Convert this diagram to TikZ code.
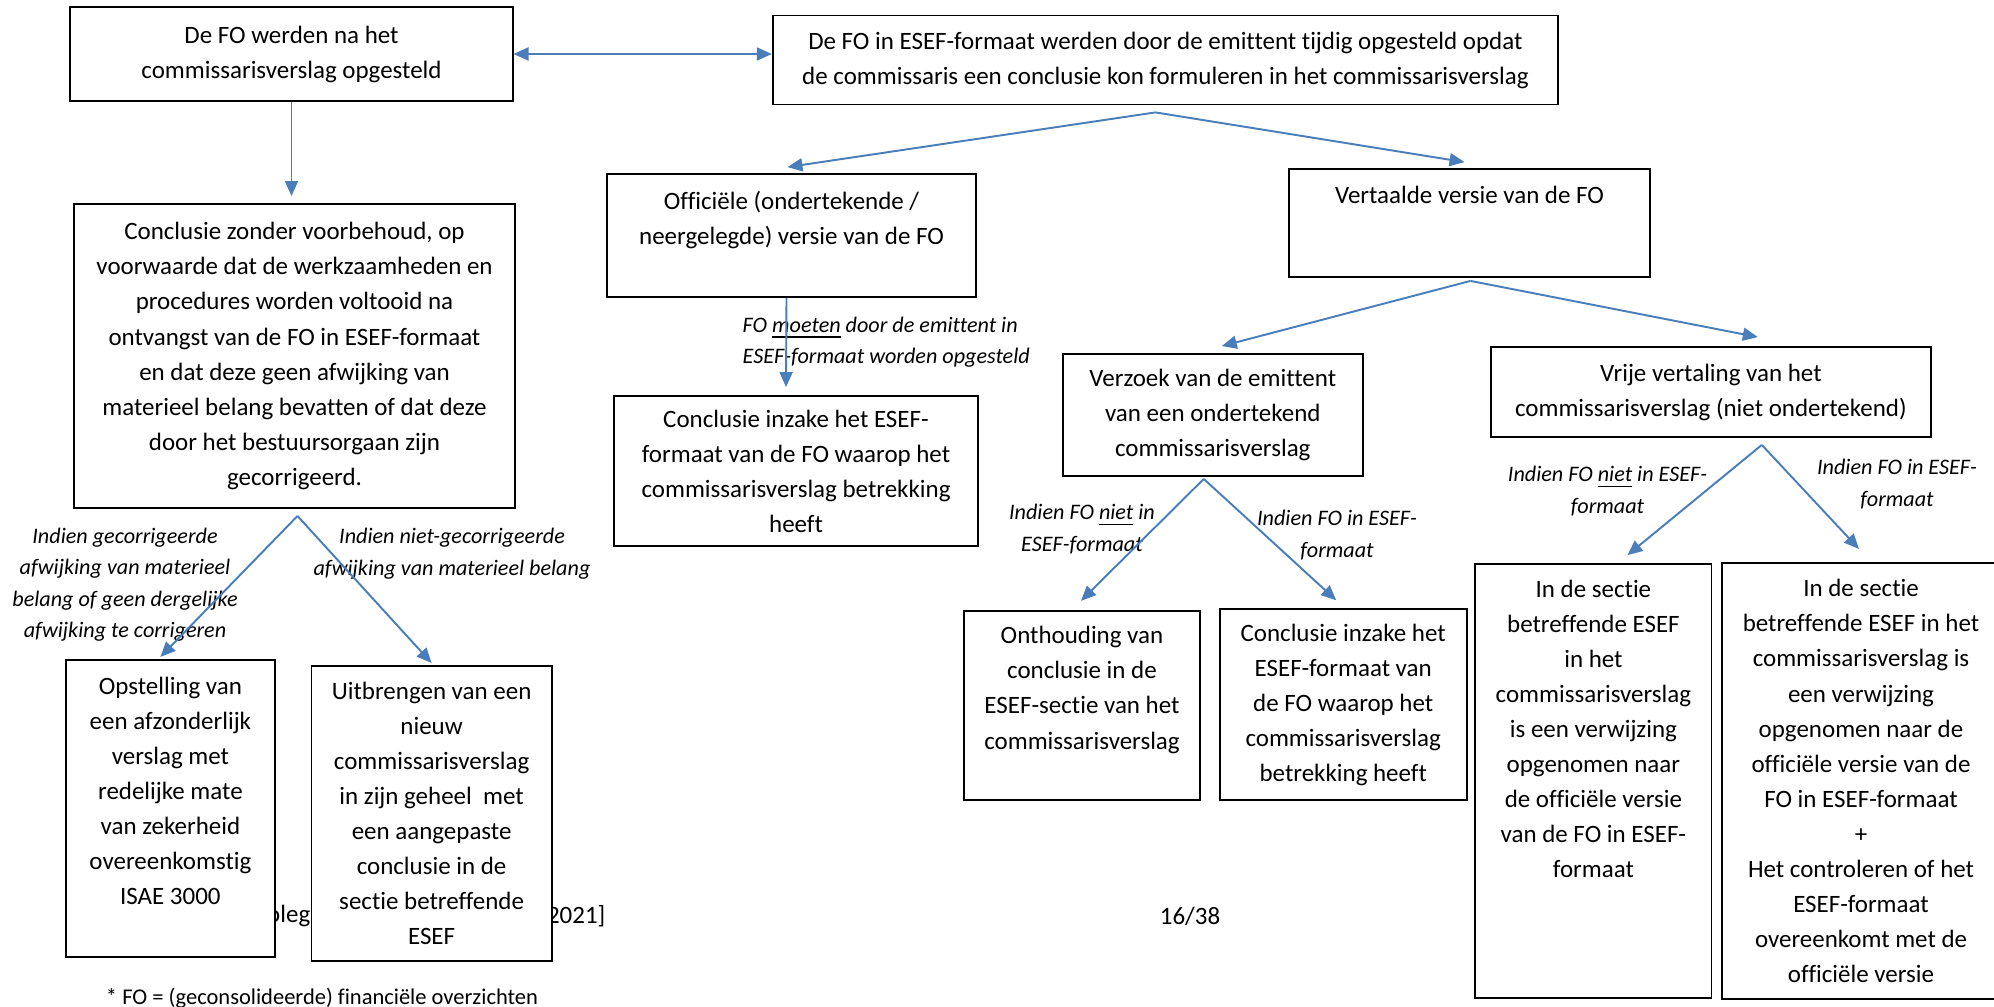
\documentclass[tikz,border=0pt]{standalone}
\usepackage{fontspec}
\setmainfont{Carlito}[Ligatures=NoCommon]
\usetikzlibrary{arrows.meta,calc}
\definecolor{Line}{HTML}{4A7EBB}
\tikzset{
  box/.style={
    draw=black, line width=0.5pt, fill=white, align=center,
    inner sep=1pt, font=\fontsize{7.1}{9.96}\selectfont
  },
  cond/.style={
    align=center, inner sep=0pt, font=\fontsize{6.3}{8.95}\selectfont\itshape
  },
  foot/.style={inner sep=0pt, font=\fontsize{7.1}{9.96}\selectfont},
  link/.style={-{Triangle[length=1.5mm,width=1.3mm]}, line width=0.55pt, draw=Line},
  bilink/.style={link, {Triangle[length=1.5mm,width=1.3mm]}-{Triangle[length=1.5mm,width=1.3mm]}}
}

\begin{document}
\begin{tikzpicture}[x=0.01cm, y=-0.01cm]
    \path[fill=white, use as bounding box] (0,0) rectangle (1994,1006);
    % page footer, partly behind the boxes
    \node[foot, anchor=east] (fold) at (311,916) {oleg};
    \node[foot, anchor=east] (fyear) at (606,916) {2021]};
    \node[foot] (fpage) at (1190,916) {16/38};
    \node[foot, font=\fontsize{6.4}{8}\selectfont] (fnote) at (322,998)
      {* FO = (geconsolideerde) financiële overzichten};
    % boxes
    \node[box, minimum width=4.42cm, minimum height=0.94cm] (nA) at (291.5,54)
      {De FO werden na het\\commissarisverslag opgesteld};
    \node[box, minimum width=7.85cm, minimum height=0.89cm] (nB) at (1165.4,60)
      {De FO in ESEF-formaat werden door de emittent tijdig opgesteld opdat\\de commissaris een conclusie kon formuleren in het commissarisverslag};
    \node[box, minimum width=4.41cm, minimum height=3.04cm] (nC) at (294.5,356)
      {Conclusie zonder voorbehoud, op\\voorwaarde dat de werkzaamheden en\\procedures worden voltooid na\\ontvangst van de FO in ESEF-formaat\\en dat deze geen afwijking van\\materieel belang bevatten of dat deze\\door het bestuursorgaan zijn\\gecorrigeerd.};
    \node[box, minimum width=3.69cm, minimum height=1.23cm] (nD) at (791.5,235.5)
      {Officiële (ondertekende /\\neergelegde) versie van de FO\\~};
    \node[box, minimum width=3.61cm, minimum height=1.08cm] (nE) at (1469.5,223)
      {Vertaalde versie van de FO\\~\\[-4pt]~};
    \node[box, minimum width=3.64cm, minimum height=1.50cm] (nF) at (796,471)
      {Conclusie inzake het ESEF-\\formaat van de FO waarop het\\commissarisverslag betrekking\\heeft};
    \node[box, minimum width=3.00cm, minimum height=1.22cm] (nG) at (1212.75,415)
      {Verzoek van de emittent\\van een ondertekend\\commissarisverslag};
    \node[box, minimum width=4.40cm, minimum height=0.90cm] (nH) at (1710.8,392)
      {Vrije vertaling van het\\commissarisverslag (niet ondertekend)};
    \node[box, minimum width=2.36cm, minimum height=1.89cm] (nI) at (1082,705.3)
      {Onthouding van\\conclusie in de\\ESEF-sectie van het\\commissarisverslag\\~};
    \node[box, minimum width=2.47cm, minimum height=1.91cm] (nJ) at (1343.2,704.7)
      {Conclusie inzake het\\ESEF-formaat van\\de FO waarop het\\commissarisverslag\\betrekking heeft};
    \node[box, minimum width=2.36cm, minimum height=4.34cm] (nK) at (1593.4,781.2)
      {In de sectie\\betreffende ESEF\\in het\\commissarisverslag\\is een verwijzing\\opgenomen naar\\de officiële versie\\van de FO in ESEF-\\formaat\\~\\~\\~};
    \node[box, minimum width=2.78cm, minimum height=4.36cm] (nL) at (1861,781)
      {In de sectie\\betreffende ESEF in het\\commissarisverslag is\\een verwijzing\\opgenomen naar de\\officiële versie van de\\FO in ESEF-formaat\\+\\Het controleren of het\\ESEF-formaat\\overeenkomt met de\\officiële versie};
    \node[box, minimum width=2.09cm, minimum height=2.97cm] (nM) at (170.4,808.4)
      {Opstelling van\\een afzonderlijk\\verslag met\\redelijke mate\\van zekerheid\\overeenkomstig\\ISAE 3000\\~};
    \node[box, minimum width=2.40cm, minimum height=2.95cm] (nN) at (431.6,813.5)
      {Uitbrengen van een\\nieuw\\commissarisverslag\\in zijn geheel\ \ met\\een aangepaste\\conclusie in de\\sectie betreffende\\ESEF};
    % conditions
    \node[cond] (lCl) at (125,584.5)
      {Indien gecorrigeerde\\afwijking van materieel\\belang of geen dergelijke\\afwijking te corrigeren};
    \node[cond] (lCr) at (452,553.5)
      {Indien niet-gecorrigeerde\\afwijking van materieel belang};
    \node[cond, align=left, anchor=west] (lD) at (742,342)
      {FO \underline{moeten} door de emittent in\\ESEF-formaat worden opgesteld};
    \node[cond] (lGl) at (1082,529) {Indien FO \underline{niet} in\\ESEF-formaat};
    \node[cond] (lGr) at (1337,535) {Indien FO in ESEF-\\formaat};
    \node[cond] (lHl) at (1607.5,491) {Indien FO \underline{niet} in ESEF-\\formaat};
    \node[cond] (lHr) at (1897,484) {Indien FO in ESEF-\\formaat};
    % connectors
    \draw[bilink] (nA.east) -- (nA.east -| nB.west);
    \draw[link] (nA.south) -- ($(nA.south |- nC.north)+(0,-7)$);
    \coordinate (fB) at ($(nB.south)+(-10,7)$);
    \draw[link] (fB) -- ($(nD.north)+(-4,-6)$);
    \draw[link] (fB) -- ($(nE.north)+(-5,-6)$);
    \draw[link] ($(nD.south)+(-5,0)$) -- ($(nF.north)+(-10,-8)$);
    \coordinate (fC) at ($(nC.south)+(3,7)$);
    \draw[link] (fC) -- ($(nM.north)+(-10,-2)$);
    \draw[link] (fC) -- ($(nN.north)+(0,-2)$);
    \coordinate (fE) at ($(nE.south)+(1,3)$);
    \draw[link] (fE) -- ($(nG.north)+(9,-7)$);
    \draw[link] (fE) -- ($(nH.north)+(47,-9)$);
    \coordinate (fG) at ($(nG.south)+(-9,2)$);
    \draw[link] (fG) -- ($(nI.north)+(-1,-9)$);
    \draw[link] (fG) -- ($(nJ.north)+(-7,-8)$);
    \coordinate (fH) at ($(nH.south)+(51,7)$);
    \draw[link] (fH) -- ($(nK.north)+(34,-8)$);
    \draw[link] (fH) -- ($(nL.north)+(-2,-13)$);
\end{tikzpicture}
\end{document}
